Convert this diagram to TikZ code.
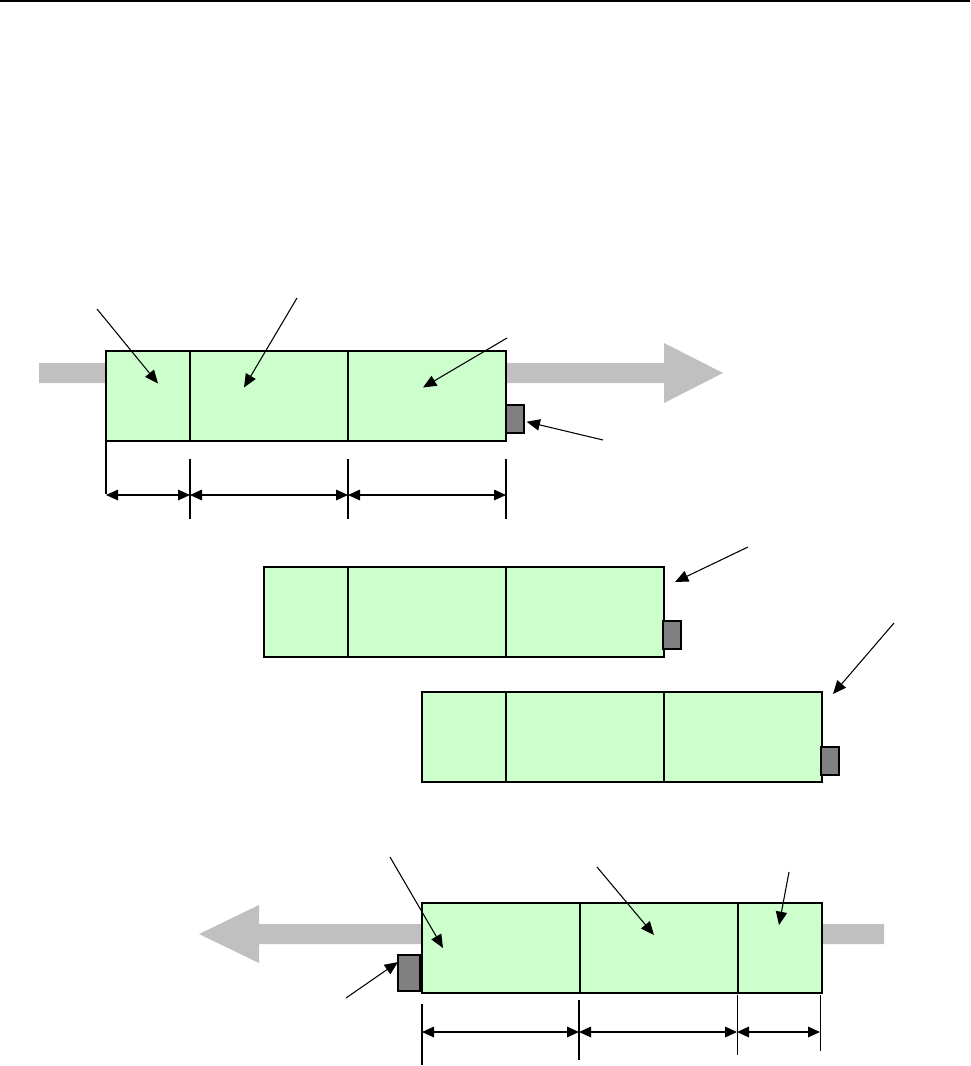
\documentclass[tikz,border=0pt]{standalone}
\usepackage{tikz}
\usetikzlibrary{arrows.meta,positioning}
\definecolor{cellgreen}{HTML}{CCFFCC}
\definecolor{flowgray}{HTML}{C0C0C0}
\definecolor{pluggray}{HTML}{808080}
\tikzset{
    cell/.style={draw, fill=cellgreen, line width=0.8pt, minimum height=67.5pt, inner sep=0pt, outer sep=0pt, anchor=north west},
    shortcell/.style={cell, minimum width=63pt},
    longcell/.style={cell, minimum width=118.5pt},
    plug/.style={draw, fill=pluggray, line width=0.9pt, minimum width=13.5pt, minimum height=21pt, inner sep=0pt, outer sep=0pt},
    pointer/.style={draw, line width=0.8pt, -{Triangle[length=10pt, width=8.5pt]}},
    span/.style={draw, line width=0.8pt, {Triangle[length=9pt, width=8pt]}-{Triangle[length=9pt, width=8pt]}},
    tick/.style={draw, line width=1.3pt},
    thintick/.style={draw, line width=0.7pt},
    flow/.style={fill=flowgray}
}

\begin{document}
\begin{tikzpicture}[x=0.75pt, y=-0.75pt]
    \useasboundingbox (0,0) rectangle (970,1066);
    \draw[line width=1.5pt] (0,1) -- (970,1);

    % gray flow arrows (behind the blocks)
    \fill[flow] (39,363) -- (664,363) -- (664,343) -- (723,373) -- (664,403) -- (664,383) -- (39,383) -- cycle;
    \fill[flow] (884,924) -- (259,924) -- (259,905) -- (199,934) -- (259,963) -- (259,944) -- (884,944) -- cycle;

    % first block
    \node[shortcell] (a1) at (106,351) {};
    \node[longcell, right=0pt of a1] (a2) {};
    \node[longcell, right=0pt of a2] (a3) {};
    \node[plug, anchor=west] (pa) at (506,419) {};

    % second block
    \node[shortcell] (b1) at (264,567) {};
    \node[longcell, right=0pt of b1] (b2) {};
    \node[longcell, right=0pt of b2] (b3) {};
    \node[plug, anchor=west] (pb) at (663,635) {};

    % third block
    \node[shortcell] (c1) at (422,692) {};
    \node[longcell, right=0pt of c1] (c2) {};
    \node[longcell, right=0pt of c2] (c3) {};
    \node[plug, anchor=west] (pc) at (821,761) {};

    % last block, turned round
    \node[longcell] (d1) at (422,903) {};
    \node[longcell, right=0pt of d1] (d2) {};
    \node[shortcell, right=0pt of d2] (d3) {};
    \node[plug, anchor=east, minimum width=16.5pt, minimum height=27pt] (pd) at (420,973) {};

    % pointer tails
    \coordinate (qa1) at (97,309);
    \coordinate (qa2) at (297,298);
    \coordinate (qa3) at (507,338);
    \coordinate (qpa) at (603,440);
    \coordinate (qb) at (748,547);
    \coordinate (qc) at (894,623);
    \coordinate (qd1) at (390,857);
    \coordinate (qd2) at (597,867);
    \coordinate (qd3) at (789,872);
    \coordinate (qpd) at (346,998);

    % pointers
    \draw[pointer] (qa1) -- ([shift={(10,-12.5)}]a1.center);
    \draw[pointer] (qa2) -- ([shift={(-25,-8.5)}]a2.center);
    \draw[pointer] (qa3) -- ([shift={(-4,-8.5)}]a3.center);
    \draw[pointer, shorten >=2pt] (qpa) -- (pa);
    \draw[pointer] (qb) -- ([shift={(11,15)}]b3.north east);
    \draw[pointer] (qc) -- ([shift={(11,2)}]c3.north east);
    \draw[pointer] (qd1) -- ([shift={(21,0)}]d1.west);
    \draw[pointer] (qd2) -- ([shift={(-5,-13)}]d2.center);
    \draw[pointer] (qd3) -- ([shift={(-1,-23)}]d3.center);
    \draw[pointer] (qpd) -- ([shift={(0,-11)}]pd.west);

    % lengths under the first block
    \draw[tick] (a1.south west) -- (106,494);
    \draw[tick] (190,459) -- (190,519);
    \draw[tick] (348,459) -- (348,519);
    \draw[tick] (506,459) -- (506,519);
    \coordinate (ma0) at (106,495);
    \coordinate (ma1) at (190,495);
    \coordinate (ma2) at (348,495);
    \coordinate (ma3) at (506,495);
    \draw[span] (ma0) -- (ma1);
    \draw[span] (ma1) -- (ma2);
    \draw[span] (ma2) -- (ma3);

    % lengths under the last block
    \draw[tick] (422,1004) -- (422,1065);
    \draw[tick] (579,1000) -- (579,1060);
    \draw[thintick] (737,995) -- (737,1055);
    \draw[thintick] (820,995) -- (820,1051);
    \coordinate (md0) at (422,1032);
    \coordinate (md1) at (579,1032);
    \coordinate (md2) at (737,1032);
    \coordinate (md3) at (820,1032);
    \draw[span] (md0) -- (md1);
    \draw[span] (md1) -- (md2);
    \draw[span] (md2) -- (md3);
\end{tikzpicture}
\end{document}
